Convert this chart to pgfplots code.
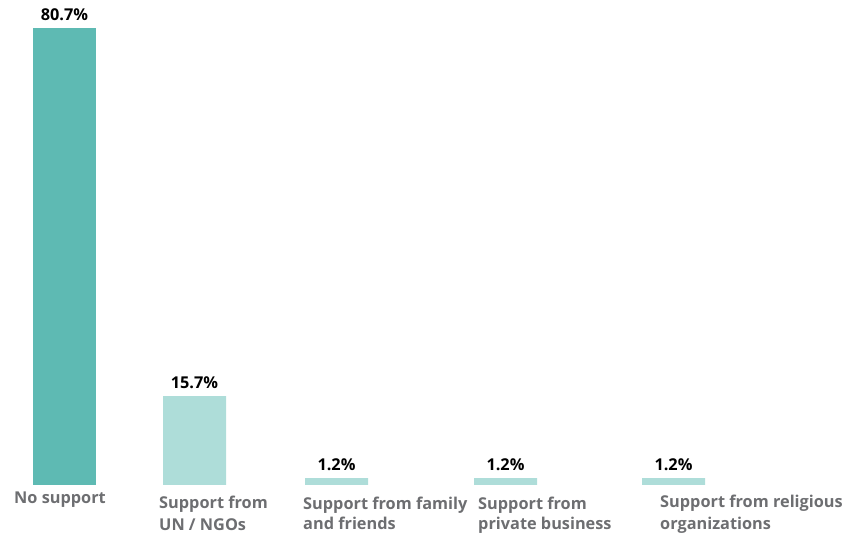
\documentclass[border=0pt]{standalone}
\usepackage{pgfplots}
\pgfplotsset{compat=1.18}
\usepackage{fontspec}
\setmainfont{Open Sans}
\definecolor{dark}{HTML}{5EBAB3}
\definecolor{light}{HTML}{AEDDD9}
\definecolor{lab}{HTML}{6D6E71}
\newcommand\lab[3]{\node[anchor=base west, inner sep=0pt, text=lab, font=\fontsize{16.3}{19}\selectfont\bfseries] at (rel axis cs:{#1/846},{(536-#2)/536}) {#3};}
\begin{document}
\begin{tikzpicture}
\begin{axis}[scale only axis, width=846pt, height=536pt,
  xmin=0, xmax=846, ymin=-9.006, ymax=85.64,
  axis lines=none, ticks=none, clip=false,
  ybar, bar width=63, bar shift=0pt,
  /pgf/number format/assume math mode=true,
  nodes near coords={\pgfmathprintnumber[fixed,zerofill,precision=1]{\pgfplotspointmeta}\%},
  nodes near coords style={anchor=south, inner sep=0pt, yshift=7pt, text=black, font=\fontsize{16.3}{19}\selectfont\bfseries},
]
\addplot[fill=dark, draw=none] coordinates {(64.5,80.7)};
\addplot[fill=light, draw=none] coordinates {(194.5,15.7) (336.5,1.2) (505.5,1.2) (673.5,1.2)};
\lab{14}{504}{No support}
\lab{159}{509}{Support from}
\lab{159}{531}{UN / NGOs}
\lab{303}{510}{Support from family}
\lab{303}{530}{and friends}
\lab{478}{510}{Support from}
\lab{478}{530}{private business}
\lab{660}{508}{Support from religious}
\lab{660}{530}{organizations}
\end{axis}
\pgfresetboundingbox
\path[use as bounding box] (current axis.south west) rectangle (current axis.north east);
\end{tikzpicture}
\end{document}
